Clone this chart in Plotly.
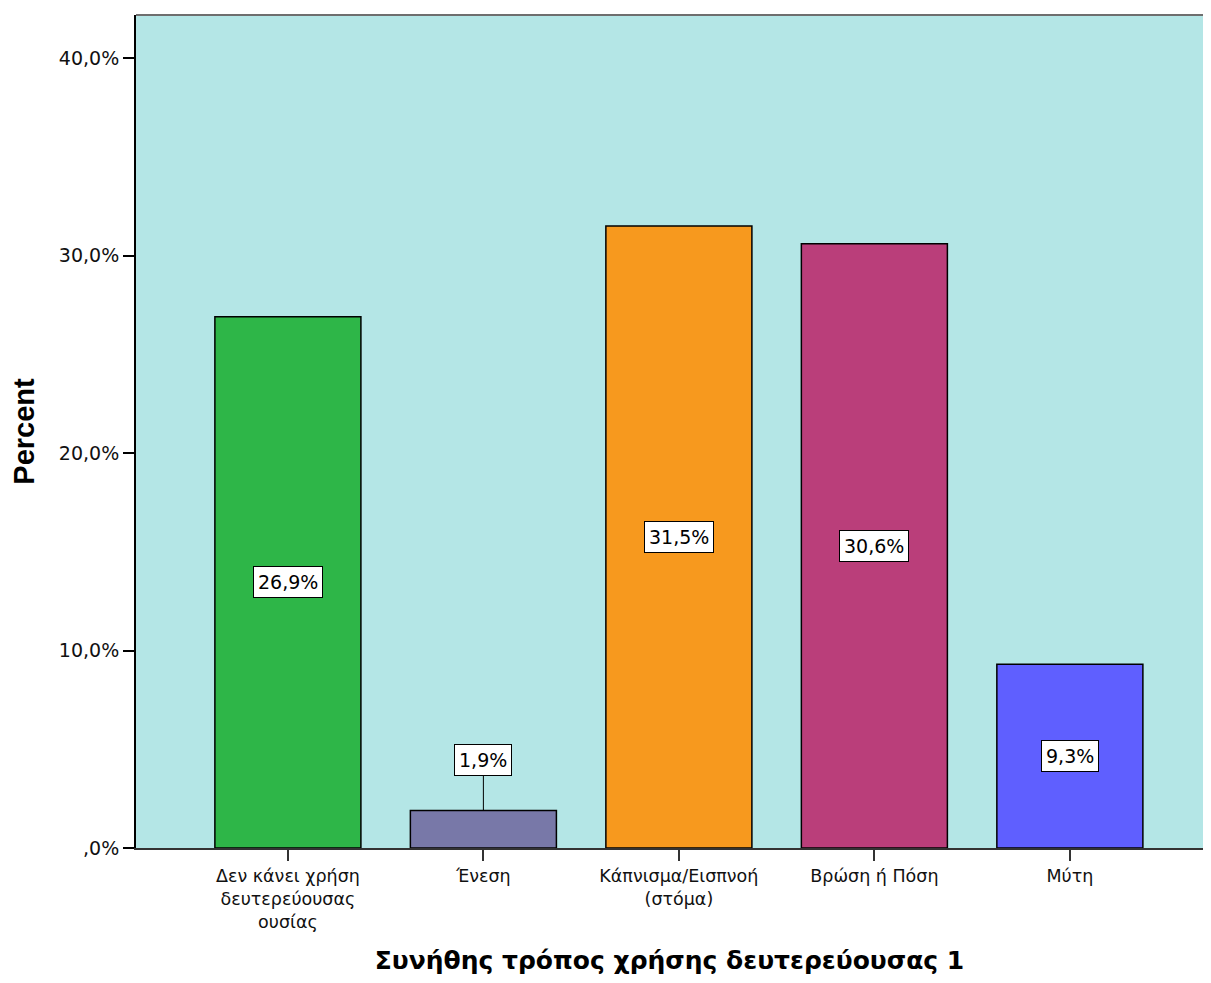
import plotly.graph_objects as go

categories = ["Δεν κάνει χρήση<br>δευτερεύουσας<br>ουσίας", "Ένεση", "Κάπνισμα/Εισπνοή<br>(στόμα)", "Βρώση ή Πόση", "Μύτη"]
values = [26.9, 1.9, 31.5, 30.6, 9.3]
value_labels = ["26,9%", "1,9%", "31,5%", "30,6%", "9,3%"]
colors = ["#2EB648", "#7878A8", "#F7991E", "#BA3E7A", "#5F5FFF"]
y_tickvals = [0, 10, 20, 30, 40]
y_ticktext = [",0%", "10,0%", "20,0%", "30,0%", "40,0%"]

FONT = "DejaVu Sans, Verdana, sans-serif"
x_idx = list(range(len(categories)))

fig = go.Figure()
fig.add_trace(go.Bar(
    x=x_idx, y=values, width=0.747,
    marker=dict(color=colors, line=dict(color="#000000", width=1.5)),
    hoverinfo="skip", showlegend=False,
))

for i, (v, t) in enumerate(zip(values, value_labels)):
    common = dict(xref="x", yref="y", text=t, bgcolor="#FFFFFF", bordercolor="#000000",
                  borderwidth=1, borderpad=4, font=dict(family=FONT, size=19, color="#000000"))
    if v < 4:
        fig.add_annotation(x=i, y=v, ax=i, ay=4.46, axref="x", ayref="y", showarrow=True,
                           arrowhead=0, arrowwidth=1, arrowcolor="#000000",
                           standoff=0, startstandoff=0, **common)
    else:
        fig.add_annotation(x=i, y=v / 2, showarrow=False, **common)

fig.add_shape(type="line", xref="paper", yref="paper", x0=0, x1=1, y0=1, y1=1,
              line=dict(color="#6E6E6E", width=2))

fig.update_layout(
    width=1195, height=967,
    margin=dict(l=128, r=0, t=7, b=127),
    paper_bgcolor="#FFFFFF", plot_bgcolor="#B4E6E6",
    font=dict(family=FONT, size=16, color="#000000"),
    xaxis=dict(
        range=[-0.777, 4.681], tickmode="array", tickvals=x_idx, ticktext=categories,
        ticks="outside", ticklen=11, tickcolor="#333333", tickwidth=1.5,
        showline=True, linecolor="#333333", linewidth=2, showgrid=False, zeroline=False,
        tickfont=dict(family=FONT, size=17.5, color="#111111"),
        title=dict(text="<b>Συνήθης τρόπος χρήσης δευτερεύουσας 1</b>",
                   font=dict(family="DejaVu Sans, Verdana, sans-serif", size=25, color="#000000"),
                   standoff=22),
    ),
    yaxis=dict(
        range=[0, 42.18], tickmode="array", tickvals=y_tickvals, ticktext=y_ticktext,
        ticks="outside", ticklen=11, tickcolor="#000000", tickwidth=2,
        showline=True, linecolor="#000000", linewidth=2, showgrid=False, zeroline=False,
        tickfont=dict(family=FONT, size=19, color="#111111"),
        title=dict(text="<b>Percent</b>",
                   font=dict(family="Liberation Sans, Arial, sans-serif", size=29, color="#000000"),
                   standoff=16),
    ),
)

fig.write_html("out.html")
